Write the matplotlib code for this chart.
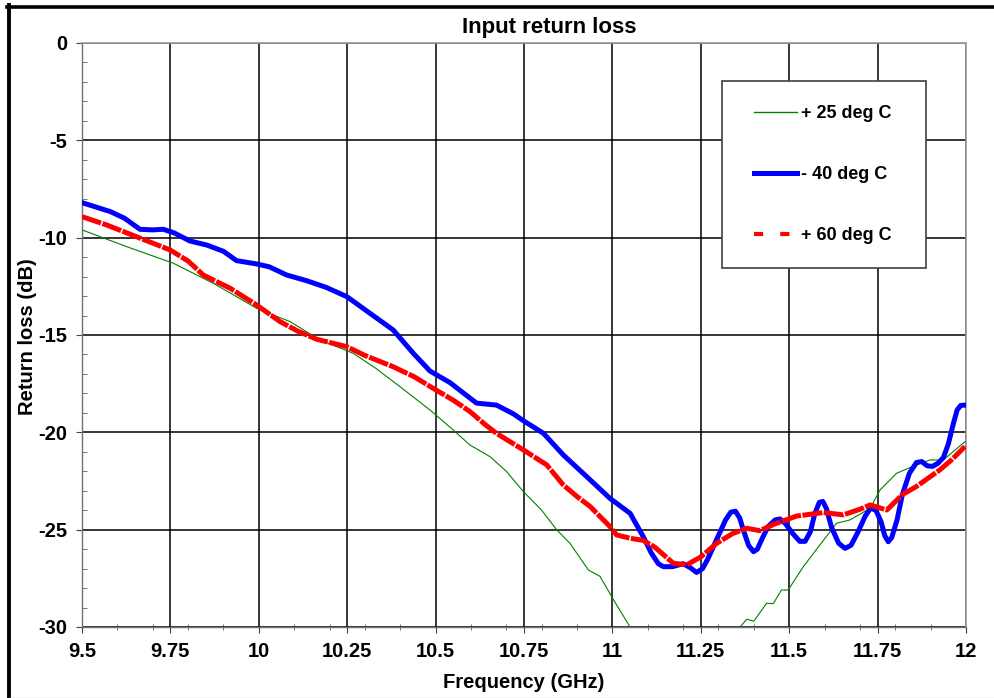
import matplotlib
matplotlib.use("Agg")
import matplotlib.pyplot as plt
from matplotlib.lines import Line2D
from matplotlib.ticker import MultipleLocator
from matplotlib.legend_handler import HandlerLine2D

# ---- data ----
freq_25 = [9.5, 9.626, 9.758, 9.871, 9.994, 10.088, 10.173, 10.267, 10.33, 10.399,
           10.484, 10.55, 10.597, 10.654, 10.70, 10.748, 10.80, 10.842, 10.88, 10.899,
           10.932, 10.965, 11.003, 11.05, 11.1, 11.2, 11.3, 11.361, 11.38, 11.40,
           11.436, 11.455, 11.478, 11.497, 11.54, 11.587, 11.634, 11.672, 11.729, 11.757,
           11.804, 11.86, 11.898, 11.936, 11.997]
rl_25 = [-9.6, -10.46, -11.31, -12.34, -13.63, -14.31, -15.25, -15.94, -16.7, -17.65,
         -18.85, -19.88, -20.65, -21.25, -22.0, -23.04, -24.0, -25.0, -25.7, -26.2,
         -27.07, -27.4, -28.6, -30.0, -31.5, -33.0, -31.5, -30.0, -29.6, -29.7,
         -28.78, -28.8, -28.1, -28.1, -26.9, -25.78, -24.67, -24.5, -23.9, -22.96,
         -22.1, -21.67, -21.42, -21.42, -20.48]

freq_m40 = [9.5, 9.58, 9.62, 9.664, 9.70, 9.73, 9.76, 9.805, 9.853, 9.90,
            9.937, 9.994, 10.03, 10.079, 10.135, 10.19, 10.249, 10.314, 10.38, 10.437,
            10.484, 10.541, 10.58, 10.616, 10.672, 10.72, 10.748, 10.805, 10.861, 10.927,
            10.993, 11.05, 11.087, 11.11, 11.13, 11.144, 11.17, 11.20, 11.22, 11.238,
            11.255, 11.27, 11.285, 11.30, 11.32, 11.335, 11.348, 11.36, 11.37, 11.385,
            11.399, 11.41, 11.425, 11.44, 11.46, 11.474, 11.49, 11.51, 11.53, 11.545,
            11.56, 11.572, 11.585, 11.595, 11.605, 11.62, 11.64, 11.658, 11.675, 11.695,
            11.715, 11.73, 11.745, 11.76, 11.77, 11.78, 11.79, 11.805, 11.82, 11.84,
            11.86, 11.875, 11.89, 11.905, 11.92, 11.936, 11.95, 11.965, 11.975, 11.985,
            11.997]
rl_m40 = [-8.2, -8.66, -9.0, -9.57, -9.6, -9.57, -9.75, -10.17, -10.38, -10.7,
          -11.18, -11.35, -11.5, -11.92, -12.21, -12.55, -13.03, -13.88, -14.74, -15.94,
          -16.85, -17.45, -18.0, -18.5, -18.6, -19.05, -19.4, -20.05, -21.16, -22.27,
          -23.39, -24.16, -25.35, -26.2, -26.75, -26.9, -26.9, -26.75, -26.95, -27.2,
          -27.0, -26.5, -25.9, -25.3, -24.5, -24.1, -24.05, -24.4, -25.0, -25.8,
          -26.13, -26.0, -25.4, -24.85, -24.5, -24.45, -24.7, -25.2, -25.6, -25.6,
          -25.1, -24.2, -23.6, -23.55, -23.9, -24.9, -25.7, -25.96, -25.8, -25.1,
          -24.3, -23.9, -24.0, -24.6, -25.3, -25.62, -25.4, -24.5, -23.2, -22.1,
          -21.55, -21.5, -21.72, -21.75, -21.6, -21.3, -20.6, -19.5, -18.85, -18.62,
          -18.6]

freq_60 = [9.5, 9.57, 9.654, 9.749, 9.80, 9.843, 9.919, 9.994, 10.06, 10.11,
           10.164, 10.249, 10.30, 10.38, 10.44, 10.494, 10.55, 10.597, 10.64, 10.672,
           10.748, 10.814, 10.861, 10.90, 10.937, 10.993, 11.012, 11.05, 11.087, 11.12,
           11.172, 11.21, 11.25, 11.295, 11.34, 11.38, 11.417, 11.46, 11.521, 11.597,
           11.653, 11.70, 11.729, 11.776, 11.82, 11.86, 11.926, 11.96, 11.997]
rl_60 = [-8.92, -9.35, -9.95, -10.63, -11.2, -11.92, -12.6, -13.46, -14.31, -14.8,
         -15.22, -15.6, -16.05, -16.63, -17.15, -17.75, -18.35, -18.93, -19.6, -20.05,
         -20.9, -21.67, -22.7, -23.3, -23.81, -24.84, -25.27, -25.44, -25.55, -25.9,
         -26.72, -26.81, -26.4, -25.7, -25.2, -24.93, -25.05, -24.7, -24.3, -24.12,
         -24.24, -23.95, -23.73, -23.99, -23.2, -22.78, -21.93, -21.4, -20.73]

labels = ["+ 25 deg C", "- 40 deg C", "+ 60 deg C"]
x_ticks = [9.5, 9.75, 10, 10.25, 10.5, 10.75, 11, 11.25, 11.5, 11.75, 12]
x_ticklabels = ["9.5", "9.75", "10", "10.25", "10.5", "10.75", "11", "11.25", "11.5", "11.75", "12"]
y_ticks = [0, -5, -10, -15, -20, -25, -30]

plt.rcParams['font.family'] = ['Liberation Sans', 'DejaVu Sans']
plt.rcParams['font.weight'] = 'bold'
plt.rcParams['axes.unicode_minus'] = False

W, H = 995, 698
fig = plt.figure(figsize=(W / 100, H / 100), dpi=100)
ax = fig.add_axes([82 / W, 1 - 627 / H, (966 - 82) / W, (627 - 43) / H])

green = '#008000'
blue = '#0000FF'
red = '#FF0000'

ax.plot(freq_25, rl_25, color=green, lw=0.8, zorder=3)
ax.plot(freq_m40, rl_m40, color=blue, lw=3.6, zorder=4, solid_joinstyle='round', solid_capstyle='round')
ax.plot(freq_60, rl_60, color=red, lw=3.6, zorder=5, linestyle=(0, (4.0, 0.3)))

ax.set_xlim(9.5, 12)
ax.set_ylim(-30, 0)
ax.set_xticks(x_ticks)
ax.set_xticklabels(x_ticklabels)
ax.set_yticks(y_ticks)
ax.xaxis.set_minor_locator(MultipleLocator(0.1))
ax.yaxis.set_minor_locator(MultipleLocator(1))

ax.tick_params(axis='both', which='major', length=4.5, width=0.8, color='#404040',
               labelsize=14.5, pad=6, direction='out')
ax.tick_params(axis='x', which='minor', length=4, width=0.6, color='#606060', direction='inout')
ax.tick_params(axis='y', which='minor', length=3.5, width=0.6, color='#606060', direction='in')
for lab in ax.get_xticklabels() + ax.get_yticklabels():
    lab.set_fontweight('bold')

ax.grid(True, which='major', color='black', lw=1.1, zorder=1)
ax.set_axisbelow(True)
for s in ['top', 'right']:
    ax.spines[s].set_color('#9a9a9a')
    ax.spines[s].set_linewidth(1.2)
for s in ['left', 'bottom']:
    ax.spines[s].set_color('#707070')
    ax.spines[s].set_linewidth(1.0)

fig.text(524 / W, 1 - 683 / H, "Frequency (GHz)", ha='center', va='center', fontsize=14.5, fontweight='bold')
fig.text(28 / W, 1 - 337 / H, "Return loss (dB)", ha='center', va='center', rotation=90, fontsize=14.5, fontweight='bold')
fig.text(549 / W, 1 - 28 / H, "Input return loss", ha='center', va='center', fontsize=16, fontweight='bold')

handles = [Line2D([], [], color=green, lw=1.0),
           Line2D([], [], color=blue, lw=3.6),
           Line2D([], [], color=red, lw=3.0, linestyle=(0, (2.2, 4.1)))]
ax_w = 966 - 82
ax_h = 627 - 43
leg = ax.legend(handles, labels, loc='upper left',
                bbox_to_anchor=((722 - 82) / ax_w, 1 - (82 - 43) / ax_h, (926 - 722) / ax_w, 0.001),
                mode='expand', borderaxespad=0, frameon=True, fancybox=False, shadow=False,
                prop={'weight': 'bold', 'size': 13},
                handlelength=2.85, handletextpad=0.2, labelspacing=2.45,
                borderpad=1.3, framealpha=1,
                handler_map={Line2D: HandlerLine2D(xpad=0.45)})
leg.get_frame().set_edgecolor('#404040')
leg.get_frame().set_linewidth(1.2)
leg.set_zorder(10)

# outer frame (top and left visible, thin gray bottom)
fig.add_artist(Line2D([7 / W, 1], [1 - 6.5 / H, 1 - 6.5 / H], color='black', lw=2.6, transform=fig.transFigure))
fig.add_artist(Line2D([9 / W, 9 / W], [0, 1 - 5 / H], color='black', lw=2.8, transform=fig.transFigure))
fig.add_artist(Line2D([9 / W, 1], [0.5 / H, 0.5 / H], color='#d8d8d8', lw=1, transform=fig.transFigure))

fig.savefig("out.png", dpi=100)
